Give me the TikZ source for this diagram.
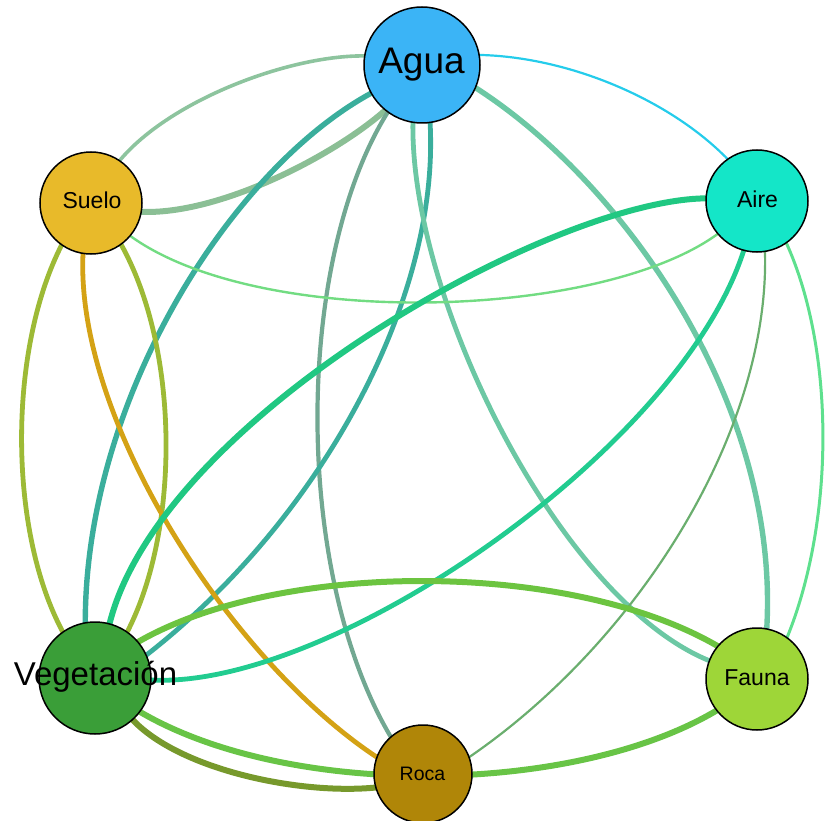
\documentclass[tikz,border=0pt]{standalone}
\usepackage{fontspec}
\setmainfont{Liberation Sans}
\usetikzlibrary{backgrounds}
\definecolor{fAgua}{HTML}{3BB4F6}
\definecolor{fSuelo}{HTML}{E8BA2A}
\definecolor{fAire}{HTML}{14E6C8}
\definecolor{fVeg}{HTML}{3A9E38}
\definecolor{fFauna}{HTML}{9ED638}
\definecolor{fRoca}{HTML}{B08608}
\definecolor{eAS}{HTML}{8DC49E}
\definecolor{eASi}{HTML}{8BBF95}
\definecolor{eAV}{HTML}{3AAE9C}
\definecolor{eAR}{HTML}{72A892}
\definecolor{eAF}{HTML}{6CC8A4}
\definecolor{eAAi}{HTML}{25CCEB}
\definecolor{eSAi}{HTML}{72DC82}
\definecolor{eSV}{HTML}{9DBA36}
\definecolor{eSR}{HTML}{D4A215}
\definecolor{eAiV}{HTML}{20C882}
\definecolor{eAiV2}{HTML}{22CC90}
\definecolor{eAiR}{HTML}{6AAE6E}
\definecolor{eAiF}{HTML}{5EE08E}
\definecolor{eVF}{HTML}{6CC440}
\definecolor{eVF2}{HTML}{68C446}
\definecolor{eVR}{HTML}{77992C}
\begin{document}
\begin{tikzpicture}[x=1pt,y=-1pt,
  vnode/.style={circle,draw=black,line width=1.5pt,inner sep=0pt,outer sep=0pt},
  lbl/.style={anchor=base,inner sep=0pt,text=black},
  link/.style={line cap=round}]
\useasboundingbox (0,0) rectangle (825,821);
% vertices
\node[vnode,fill=fAgua,minimum size=116pt] (Agua) at (422,65) {};
\node[vnode,fill=fSuelo,minimum size=102pt] (Suelo) at (91,203) {};
\node[vnode,fill=fAire,minimum size=102pt] (Aire) at (757,201) {};
\node[vnode,fill=fVeg,minimum size=112pt] (Veg) at (95,678) {};
\node[vnode,fill=fFauna,minimum size=102pt] (Fauna) at (757,679) {};
\node[vnode,fill=fRoca,minimum size=98pt] (Roca) at (423,774) {};
% edges
\begin{scope}[on background layer]
\draw[link,eAS,line width=3.6pt] (Agua.171) .. controls (290,55) and (170,100) .. (Suelo.56);
\draw[link,eASi,line width=6pt] (Agua.231) .. controls (335,155) and (220,215) .. (Suelo.350);
\draw[link,eAV,line width=5.4pt] (Agua.209) .. controls (230,170) and (85,400) .. (Veg.100);
\draw[link,eAR,line width=4.2pt] (Agua.234) .. controls (295,260) and (292,570) .. (Roca.131);
\draw[link,eAV,line width=4.8pt] (Agua.278) .. controls (440,300) and (320,520) .. (Veg.24);
\draw[link,eAF,line width=4.8pt] (Agua.261) .. controls (410,300) and (560,600) .. (Fauna.159);
\draw[link,eAF,line width=5.4pt] (Agua.337) .. controls (620,180) and (780,400) .. (Fauna.79);
\draw[link,eAAi,line width=2.2pt] (Agua.10) .. controls (570,57) and (670,100) .. (Aire.125);
\draw[link,eSAi,line width=2.4pt] (Suelo.320) .. controls (260,330) and (600,320) .. (Aire.220);
\draw[link,eSV,line width=4.8pt] (Suelo.235) .. controls (8,350) and (8,530) .. (Veg.125);
\draw[link,eSV,line width=4.8pt] (Suelo.306) .. controls (180,350) and (180,530) .. (Veg.55);
\draw[link,eSR,line width=4.8pt] (Suelo.261) .. controls (75,420) and (230,660) .. (Roca.160);
\draw[link,eAiV,line width=6pt] (Aire.177) .. controls (550,200) and (160,420) .. (Veg.75);
\draw[link,eAiV2,line width=4.8pt] (Aire.255) .. controls (680,450) and (330,690) .. (Veg.358);
\draw[link,eAiR,line width=2.2pt] (Aire.279) .. controls (770,430) and (640,640) .. (Roca.20);
\draw[link,eAiF,line width=3pt] (Aire.305) .. controls (835,350) and (835,520) .. (Fauna.54);
\draw[link,eVF,line width=6pt] (Veg.40) .. controls (280,560) and (570,560) .. (Fauna.140);
\draw[link,eVF2,line width=6pt] (Veg.323) .. controls (290,800) and (575,795) .. (Fauna.218);
\draw[link,eVR,line width=6pt] (Veg.312) .. controls (180,770) and (300,795) .. (Roca.196);
\end{scope}
% labels
\node[lbl,font=\fontsize{37}{40}\selectfont] (tAgua) at (421.5,74) {Agua};
\node[lbl,font=\fontsize{23}{26}\selectfont] (tSuelo) at (92,209) {Suelo};
\node[lbl,font=\fontsize{23}{26}\selectfont] (tAire) at (757.5,208) {Aire};
\node[lbl,font=\fontsize{33}{36}\selectfont] (tVeg) at (95.5,685) {Vegetación};
\node[lbl,font=\fontsize{23}{26}\selectfont] (tFauna) at (757,685) {Fauna};
\node[lbl,font=\fontsize{19.5}{22}\selectfont] (tRoca) at (422.5,780) {Roca};
\end{tikzpicture}
\end{document}
